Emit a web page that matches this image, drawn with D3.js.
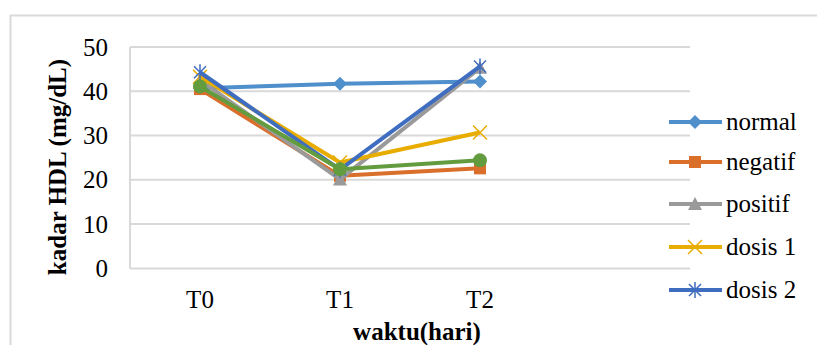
<!DOCTYPE html>
<html><head><meta charset="utf-8">
<script src="https://cdn.jsdelivr.net/npm/d3@7"></script>
</head><body style="margin:0">
<svg id="c" width="817" height="345"></svg>
<script>
const categories = ["T0", "T1", "T2", ""];
const yTicks = [0, 10, 20, 30, 40, 50];
const normal  = [40.7, 41.7, 42.2];
const negatif = [40.5, 20.9, 22.6];
const positif = [42.5, 20.1, 45.3];
const dosis1  = [43.3, 23.9, 30.7];
const dosis2  = [44.3, 22.3, 45.6];
const dosis3  = [41.1, 22.4, 24.4];
const seriesNames = ["normal", "negatif", "positif", "dosis 1", "dosis 2", "dosis 3"];
const seriesValues = [normal, negatif, positif, dosis1, dosis2, dosis3];
const seriesColors = ["#4F8FCB", "#D96F2B", "#9A9A9A", "#E8AD00", "#3F6DBF", "#629C3F"];
const seriesMarkers = ["diamond", "square", "triangle", "x", "star", "circle"];
const legendCount = 5;
const fontNames = ["Times New Roman", "Liberation Serif"];

const FONT = fontNames.map(f => `"${f}"`).join(", ");
const svg = d3.select("#c");

function txt(sel) {
  return sel.append("text").style("font-family", FONT).attr("font-size", 25);
}

// outer chart border
svg.append("path").attr("d", "M10.5,345 L10.5,15.5 L817,15.5")
  .attr("fill", "none").attr("stroke", "#d9d9d9").attr("stroke-width", 2);

const x = d3.scaleBand().domain(categories).range([130, 690]);
const y = d3.scaleLinear().domain([0, 50]).range([268.4, 47]);

// gridlines
svg.append("g").selectAll("line").data(yTicks).join("line")
  .attr("x1", 130).attr("x2", 690)
  .attr("y1", d => y(d)).attr("y2", d => y(d))
  .attr("stroke", "#d9d9d9").attr("stroke-width", 2);
// left axis line
svg.append("line").attr("x1", 130).attr("x2", 130).attr("y1", y(50)).attr("y2", y(0))
  .attr("stroke", "#d9d9d9").attr("stroke-width", 2);

// y tick labels
yTicks.forEach(d => {
  txt(svg).attr("x", 108).attr("y", y(d) + 8.5).attr("text-anchor", "end").text(d);
});

// x tick labels
categories.filter(c => c).forEach(d => {
  txt(svg).attr("x", x(d) + x.bandwidth() / 2).attr("y", 308).attr("text-anchor", "middle").text(d);
});

// axis titles
txt(svg).attr("transform", "translate(66,167) rotate(-90)")
  .attr("text-anchor", "middle").attr("font-weight", "bold").text("kadar HDL (mg/dL)");
txt(svg).attr("x", 417).attr("y", 340)
  .attr("text-anchor", "middle").attr("font-weight", "bold").text("waktu(hari)");

function drawMarker(g, type, color) {
  if (type === "diamond") {
    g.append("path").attr("d", "M0,-7 L7,0 L0,7 L-7,0Z").attr("fill", color);
  } else if (type === "square") {
    g.append("rect").attr("x", -6).attr("y", -6).attr("width", 12).attr("height", 12).attr("fill", color);
  } else if (type === "triangle") {
    g.append("path").attr("d", "M0,-7 L7,6 L-7,6Z").attr("fill", color);
  } else if (type === "x") {
    g.append("path").attr("d", "M-7,-7 L7,7 M-7,7 L7,-7").attr("stroke", color).attr("stroke-width", 1.5);
  } else if (type === "star") {
    g.append("path").attr("d", "M-6,-6 L6,6 M-6,6 L6,-6 M0,-8 L0,8").attr("stroke", color).attr("stroke-width", 1.5);
  } else if (type === "circle") {
    g.append("circle").attr("r", 7).attr("fill", color);
  }
}

const line = d3.line().x((d, i) => x(categories[i]) + x.bandwidth() / 2).y(d => y(d));

seriesValues.forEach((vals, si) => {
  const g = svg.append("g");
  g.append("path").attr("d", line(vals)).attr("fill", "none")
    .attr("stroke", seriesColors[si]).attr("stroke-width", 4).attr("stroke-linejoin", "round");
  vals.forEach((v, i) => {
    const m = g.append("g").attr("transform", `translate(${x(categories[i]) + x.bandwidth() / 2},${y(v)})`);
    drawMarker(m, seriesMarkers[si], seriesColors[si]);
  });
});

// legend
const legendY = [122, 162, 204, 247, 290];
for (let i = 0; i < legendCount; i++) {
  const g = svg.append("g").attr("transform", `translate(0,${legendY[i]})`);
  g.append("line").attr("x1", 669).attr("x2", 722).attr("y1", 0).attr("y2", 0)
    .attr("stroke", seriesColors[i]).attr("stroke-width", 4);
  const m = g.append("g").attr("transform", "translate(695,0)");
  drawMarker(m, seriesMarkers[i], seriesColors[i]);
  txt(g).attr("x", 726).attr("y", 8).text(seriesNames[i]);
}
</script>
</body></html>
